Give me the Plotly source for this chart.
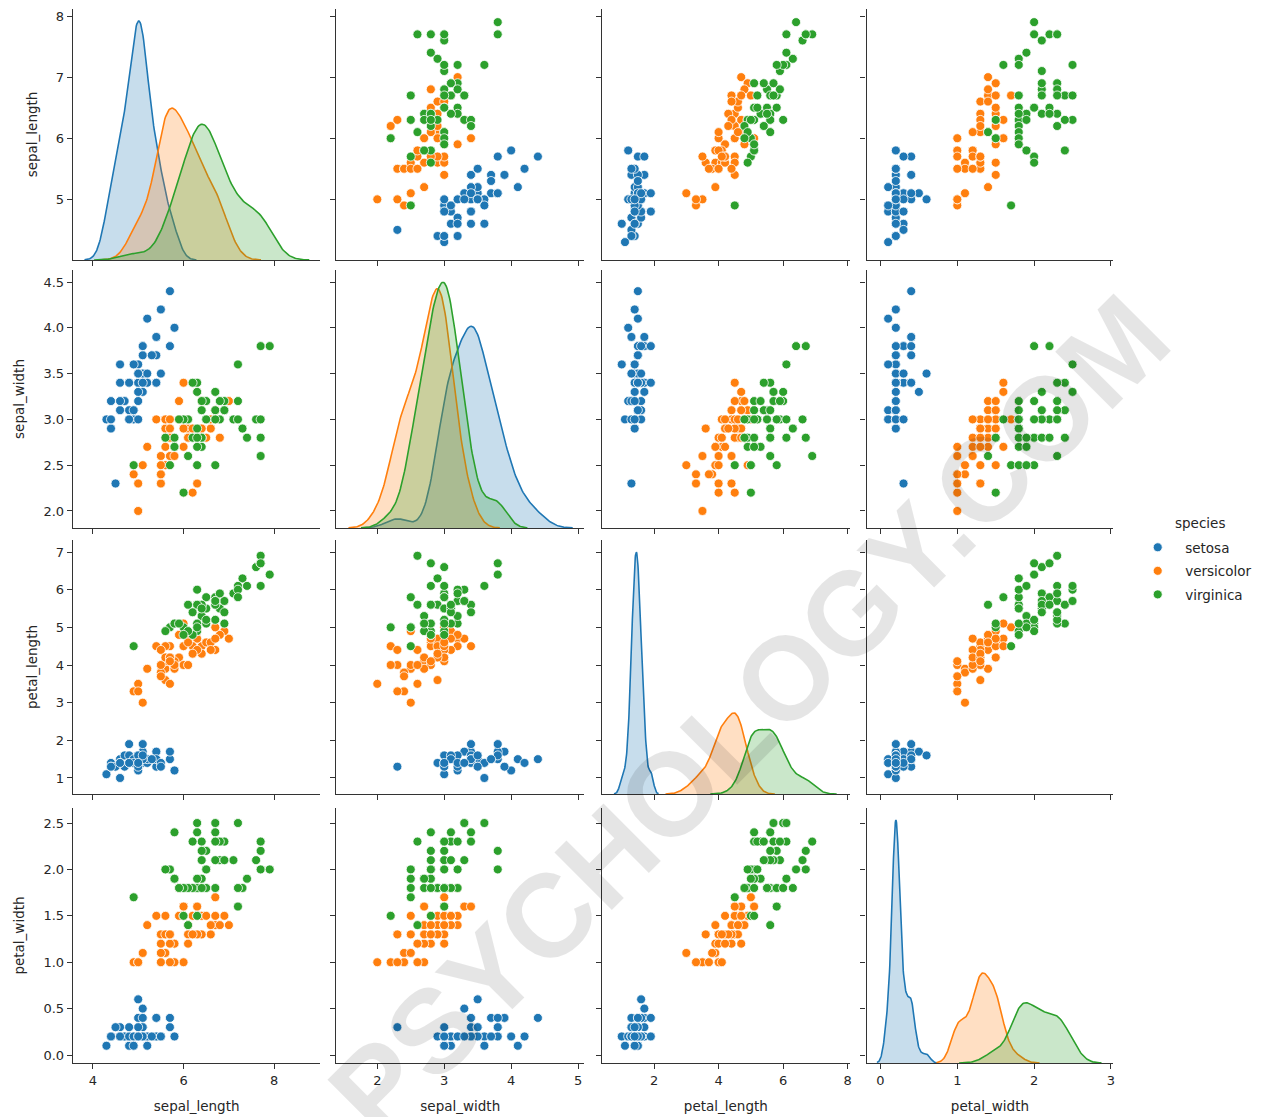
import numpy as np
import plotly.graph_objects as go

# ---------------- data (iris, as plotted) ----------------
species_names = ["setosa", "versicolor", "virginica"]
species_counts = [50, 50, 50]
variables = ["sepal_length", "sepal_width", "petal_length", "petal_width"]

sepal_length = [
    5.1, 4.9, 4.7, 4.6, 5.0, 5.4, 4.6, 5.0, 4.4, 4.9, 5.4, 4.8, 4.8, 4.3, 5.8, 5.7, 5.4, 5.1, 5.7, 5.1,
    5.4, 5.1, 4.6, 5.1, 4.8, 5.0, 5.0, 5.2, 5.2, 4.7, 4.8, 5.4, 5.2, 5.5, 4.9, 5.0, 5.5, 4.9, 4.4, 5.1,
    5.0, 4.5, 4.4, 5.0, 5.1, 4.8, 5.1, 4.6, 5.3, 5.0,
    7.0, 6.4, 6.9, 5.5, 6.5, 5.7, 6.3, 4.9, 6.6, 5.2, 5.0, 5.9, 6.0, 6.1, 5.6, 6.7, 5.6, 5.8, 6.2, 5.6,
    5.9, 6.1, 6.3, 6.1, 6.4, 6.6, 6.8, 6.7, 6.0, 5.7, 5.5, 5.5, 5.8, 6.0, 5.4, 6.0, 6.7, 6.3, 5.6, 5.5,
    5.5, 6.1, 5.8, 5.0, 5.6, 5.7, 5.7, 6.2, 5.1, 5.7,
    6.3, 5.8, 7.1, 6.3, 6.5, 7.6, 4.9, 7.3, 6.7, 7.2, 6.5, 6.4, 6.8, 5.7, 5.8, 6.4, 6.5, 7.7, 7.7, 6.0,
    6.9, 5.6, 7.7, 6.3, 6.7, 7.2, 6.2, 6.1, 6.4, 7.2, 7.4, 7.9, 6.4, 6.3, 6.1, 7.7, 6.3, 6.4, 6.0, 6.9,
    6.7, 6.9, 5.8, 6.8, 6.7, 6.7, 6.3, 6.5, 6.2, 5.9,
]
sepal_width = [
    3.5, 3.0, 3.2, 3.1, 3.6, 3.9, 3.4, 3.4, 2.9, 3.1, 3.7, 3.4, 3.0, 3.0, 4.0, 4.4, 3.9, 3.5, 3.8, 3.8,
    3.4, 3.7, 3.6, 3.3, 3.4, 3.0, 3.4, 3.5, 3.4, 3.2, 3.1, 3.4, 4.1, 4.2, 3.1, 3.2, 3.5, 3.6, 3.0, 3.4,
    3.5, 2.3, 3.2, 3.5, 3.8, 3.0, 3.8, 3.2, 3.7, 3.3,
    3.2, 3.2, 3.1, 2.3, 2.8, 2.8, 3.3, 2.4, 2.9, 2.7, 2.0, 3.0, 2.2, 2.9, 2.9, 3.1, 3.0, 2.7, 2.2, 2.5,
    3.2, 2.8, 2.5, 2.8, 2.9, 3.0, 2.8, 3.0, 2.9, 2.6, 2.4, 2.4, 2.7, 2.7, 3.0, 3.4, 3.1, 2.3, 3.0, 2.5,
    2.6, 3.0, 2.6, 2.3, 2.7, 3.0, 2.9, 2.9, 2.5, 2.8,
    3.3, 2.7, 3.0, 2.9, 3.0, 3.0, 2.5, 2.9, 2.5, 3.6, 3.2, 2.7, 3.0, 2.5, 2.8, 3.2, 3.0, 3.8, 2.6, 2.2,
    3.2, 2.8, 2.8, 2.7, 3.3, 3.2, 2.8, 3.0, 2.8, 3.0, 2.8, 3.8, 2.8, 2.8, 2.6, 3.0, 3.4, 3.1, 3.0, 3.1,
    3.1, 3.1, 2.7, 3.2, 3.3, 3.0, 2.5, 3.0, 3.4, 3.0,
]
petal_length = [
    1.4, 1.4, 1.3, 1.5, 1.4, 1.7, 1.4, 1.5, 1.4, 1.5, 1.5, 1.6, 1.4, 1.1, 1.2, 1.5, 1.3, 1.4, 1.7, 1.5,
    1.7, 1.5, 1.0, 1.7, 1.9, 1.6, 1.6, 1.5, 1.4, 1.6, 1.6, 1.5, 1.5, 1.4, 1.5, 1.2, 1.3, 1.4, 1.3, 1.5,
    1.3, 1.3, 1.3, 1.6, 1.9, 1.4, 1.6, 1.4, 1.5, 1.4,
    4.7, 4.5, 4.9, 4.0, 4.6, 4.5, 4.7, 3.3, 4.6, 3.9, 3.5, 4.2, 4.0, 4.7, 3.6, 4.4, 4.5, 4.1, 4.5, 3.9,
    4.8, 4.0, 4.9, 4.7, 4.3, 4.4, 4.8, 5.0, 4.5, 3.5, 3.8, 3.7, 3.9, 5.1, 4.5, 4.5, 4.7, 4.4, 4.1, 4.0,
    4.4, 4.6, 4.0, 3.3, 4.2, 4.2, 4.2, 4.3, 3.0, 4.1,
    6.0, 5.1, 5.9, 5.6, 5.8, 6.6, 4.5, 6.3, 5.8, 6.1, 5.1, 5.3, 5.5, 5.0, 5.1, 5.3, 5.5, 6.7, 6.9, 5.0,
    5.7, 4.9, 6.7, 4.9, 5.7, 6.0, 4.8, 4.9, 5.6, 5.8, 6.1, 6.4, 5.6, 5.1, 5.6, 6.1, 5.6, 5.5, 4.8, 5.4,
    5.6, 5.1, 5.1, 5.9, 5.7, 5.2, 5.0, 5.2, 5.4, 5.1,
]
petal_width = [
    0.2, 0.2, 0.2, 0.2, 0.2, 0.4, 0.3, 0.2, 0.2, 0.1, 0.2, 0.2, 0.1, 0.1, 0.2, 0.4, 0.4, 0.3, 0.3, 0.3,
    0.2, 0.4, 0.2, 0.5, 0.2, 0.2, 0.4, 0.2, 0.2, 0.2, 0.2, 0.4, 0.1, 0.2, 0.2, 0.2, 0.2, 0.1, 0.2, 0.2,
    0.3, 0.3, 0.2, 0.6, 0.4, 0.3, 0.2, 0.2, 0.2, 0.2,
    1.4, 1.5, 1.5, 1.3, 1.5, 1.3, 1.6, 1.0, 1.3, 1.4, 1.0, 1.5, 1.0, 1.4, 1.3, 1.4, 1.5, 1.0, 1.5, 1.1,
    1.8, 1.3, 1.5, 1.2, 1.3, 1.4, 1.4, 1.7, 1.5, 1.0, 1.1, 1.0, 1.2, 1.6, 1.5, 1.6, 1.5, 1.3, 1.3, 1.3,
    1.2, 1.4, 1.2, 1.0, 1.3, 1.2, 1.3, 1.3, 1.1, 1.3,
    2.5, 1.9, 2.1, 1.8, 2.2, 2.1, 1.7, 1.8, 1.8, 2.5, 2.0, 1.9, 2.1, 2.0, 2.4, 2.3, 1.8, 2.2, 2.3, 1.5,
    2.3, 2.0, 2.0, 1.8, 2.1, 1.8, 1.8, 1.8, 2.1, 1.6, 1.9, 2.0, 2.2, 1.5, 1.4, 2.3, 2.4, 1.8, 1.8, 2.1,
    2.4, 2.3, 1.9, 2.3, 2.5, 2.3, 1.9, 2.0, 2.3, 1.8,
]

col_tickvals = [[4, 6, 8], [2, 3, 4, 5], [2, 4, 6, 8], [0, 1, 2, 3]]
row_tickvals = [[5, 6, 7, 8], [2.0, 2.5, 3.0, 3.5, 4.0, 4.5], [1, 2, 3, 4, 5, 6, 7],
                [0.0, 0.5, 1.0, 1.5, 2.0, 2.5]]
row_tickformat = ["d", ".1f", "d", ".1f"]

# ---------------- styling / layout ----------------
W, H = 1273, 1117
colors = ["#1f77b4", "#ff7f0e", "#2ca02c"]
fills = ["rgba(31,119,180,0.25)", "rgba(255,127,14,0.25)", "rgba(44,160,44,0.25)"]
col_px = [(73, 321), (337, 585), (603, 851), (868, 1115)]
row_px = [(9, 260), (270, 528), (540, 794), (808, 1063)]
x_ranges = [[3.56, 9.02], [1.39, 5.09], [0.39, 8.06], [-0.18, 3.03]]
y_ranges = [[4.007, 8.115], [1.814, 4.631], [0.575, 7.319], [-0.086, 2.662]]

FONT = "DejaVu Sans"
TXT = "#262626"
SPINE = "#333333"

data = {
    "sepal_length": np.array(sepal_length),
    "sepal_width": np.array(sepal_width),
    "petal_length": np.array(petal_length),
    "petal_width": np.array(petal_width),
}
starts = np.cumsum([0] + species_counts)
N = sum(species_counts)


def kde(values, n_total, gridsize=200, cut=3):
    v = np.asarray(values, dtype=float)
    n = len(v)
    bw = v.std(ddof=1) * n ** (-1 / 5)
    grid = np.linspace(v.min() - cut * bw, v.max() + cut * bw, gridsize)
    dens = np.exp(-0.5 * ((grid[:, None] - v[None, :]) / bw) ** 2).sum(axis=1)
    dens /= n * bw * np.sqrt(2 * np.pi)
    return grid, dens * n / n_total


def aid(prefix, k):
    return prefix if k == 1 else f"{prefix}{k}"


fig = go.Figure()
layout = {}

for r in range(4):
    for c in range(4):
        k = r * 4 + c + 1
        xa, ya = aid("x", k), aid("y", k)
        xdom = [col_px[c][0] / W, col_px[c][1] / W]
        ydom = [1 - row_px[r][1] / H, 1 - row_px[r][0] / H]
        if r != c:
            for s, name in enumerate(species_names):
                sl = slice(starts[s], starts[s + 1])
                fig.add_trace(go.Scatter(
                    x=data[variables[c]][sl], y=data[variables[r]][sl],
                    mode="markers", name=name, legendgroup=name,
                    showlegend=(k == 2), xaxis=xa, yaxis=ya,
                    marker=dict(color=colors[s], size=9,
                                line=dict(color="white", width=0.8)),
                    hoverinfo="skip",
                ))
        else:
            # empty trace so the visible (row-scaled) axes of this cell exist
            fig.add_trace(go.Scatter(x=[], y=[], xaxis=xa, yaxis=ya,
                                     showlegend=False, hoverinfo="skip"))
            kid = 17 + r
            maxd = 0
            curves = []
            for s, name in enumerate(species_names):
                sl = slice(starts[s], starts[s + 1])
                g, d = kde(data[variables[c]][sl], N)
                maxd = max(maxd, d.max())
                curves.append((g, d))
            for s, (g, d) in enumerate(curves):
                fig.add_trace(go.Scatter(
                    x=g, y=d, mode="lines", fill="tozeroy",
                    fillcolor=fills[s], line=dict(color=colors[s], width=1.6),
                    showlegend=False, legendgroup=species_names[s],
                    xaxis=xa, yaxis=f"y{kid}", hoverinfo="skip",
                ))
            layout[f"yaxis{kid}"] = dict(
                overlaying=ya, anchor=xa, domain=ydom, range=[0, maxd * 1.05],
                visible=False, showgrid=False, zeroline=False, side="right",
            )

        common = dict(
            showgrid=False, zeroline=False, showline=True, linecolor=SPINE,
            linewidth=1.3, ticks="outside", ticklen=5, tickwidth=1.2,
            tickcolor=SPINE, tickfont=dict(family=FONT, size=13, color=TXT),
        )
        xdict = dict(
            common, domain=xdom, range=x_ranges[c], anchor=ya, tickmode="array",
            tickvals=col_tickvals[c], showticklabels=(r == 3),
        )
        if r == 3:
            xdict["title"] = dict(text=variables[c], standoff=14,
                                  font=dict(family=FONT, size=13.5, color=TXT))
        ydict = dict(
            common, domain=ydom, range=y_ranges[r], anchor=xa, tickmode="array",
            tickvals=row_tickvals[r], tickformat=row_tickformat[r],
            showticklabels=(c == 0),
        )
        if c == 0:
            ydict["title"] = dict(text=variables[r], standoff=15,
                                  font=dict(family=FONT, size=13.5, color=TXT))
        layout[aid("xaxis", k)] = xdict
        layout[aid("yaxis", k)] = ydict

fig.update_layout(**layout)
fig.update_layout(
    width=W, height=H, autosize=False,
    margin=dict(l=0, r=0, t=0, b=0),
    paper_bgcolor="white", plot_bgcolor="white",
    font=dict(family=FONT, size=13, color=TXT),
    legend=dict(
        x=1132 / W, y=1 - 532 / H, xanchor="left", yanchor="top",
        font=dict(family=FONT, size=13.5, color=TXT),
        bgcolor="rgba(0,0,0,0)", traceorder="grouped", tracegroupgap=3,
        itemwidth=45,
    ),
    annotations=[
        dict(text="species", x=1202 / W, y=1 - 523 / H, xref="paper",
             yref="paper", showarrow=False, xanchor="center", yanchor="middle",
             font=dict(family=FONT, size=13.5, color=TXT)),
        dict(text="PSYCHOLOGY.COM", x=750 / W, y=1 - 715 / H, xref="paper",
             yref="paper", showarrow=False, textangle=-45,
             font=dict(family="Liberation Sans", size=118,
                       color="rgba(0,0,0,0.1)", weight="bold")),
    ],
)

fig.write_html(
    "out.html",
    config={"displayModeBar": False},
    post_script="document.body.style.margin='0';document.body.style.overflow='hidden';",
)
